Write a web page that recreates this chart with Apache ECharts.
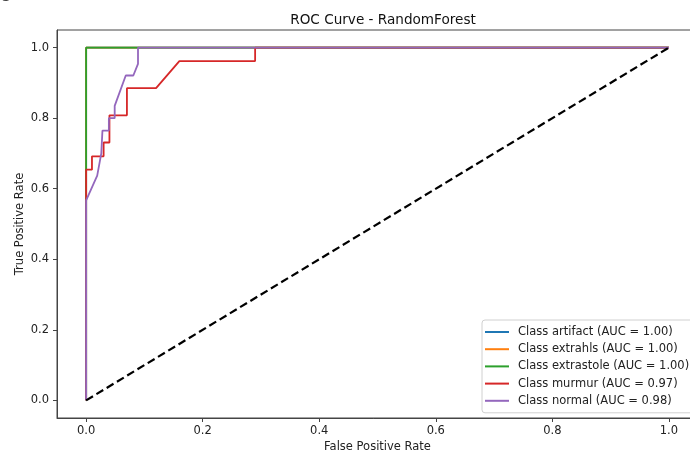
<!DOCTYPE html>
<html>
<head>
<meta charset="utf-8">
<script src="https://cdn.jsdelivr.net/npm/echarts@6/dist/echarts.min.js"></script>
<style>
html,body{margin:0;padding:0;background:#fff;}
#chart{width:690px;height:453px;}
</style>
</head>
<body>
<div id="chart"></div>
<script>
// ---- data ----
var classNames = ['artifact', 'extrahls', 'extrastole', 'murmur', 'normal'];
var aucValues = [1.00, 1.00, 1.00, 0.97, 0.98];
var artifactFpr = [0, 0, 1];
var artifactTpr = [0, 1, 1];
var extrahlsFpr = [0, 0, 1];
var extrahlsTpr = [0, 1, 1];
var extrastoleFpr = [0, 0, 1];
var extrastoleTpr = [0, 1, 1];
var murmurFpr = [0, 0, 0.01, 0.01, 0.03, 0.03, 0.04, 0.04, 0.07, 0.07, 0.12, 0.16, 0.29, 0.29, 1];
var murmurTpr = [0, 0.654, 0.654, 0.692, 0.692, 0.731, 0.731, 0.808, 0.808, 0.885, 0.885, 0.962, 0.962, 1, 1];
var normalFpr = [0, 0, 0.019, 0.026, 0.028, 0.028, 0.039, 0.039, 0.049, 0.049, 0.068, 0.081, 0.089, 0.089, 1];
var normalTpr = [0, 0.567, 0.637, 0.70, 0.70, 0.765, 0.765, 0.80, 0.80, 0.835, 0.921, 0.921, 0.954, 1, 1];
var chanceX = [0, 1];
var chanceY = [0, 1];
var tickValues = [0, 0.2, 0.4, 0.6, 0.8, 1.0];

var colors = ['#1f77b4', '#ff7f0e', '#2ca02c', '#d62728', '#9467bd'];
var fprs = [artifactFpr, extrahlsFpr, extrastoleFpr, murmurFpr, normalFpr];
var tprs = [artifactTpr, extrahlsTpr, extrastoleTpr, murmurTpr, normalTpr];

function zip(a, b) { return a.map(function (v, i) { return [v, b[i]]; }); }

var FONT = 'DejaVu Sans';
var series = classNames.map(function (n, i) {
  return {
    name: 'Class ' + n + ' (AUC = ' + aucValues[i].toFixed(2) + ')',
    type: 'line',
    data: zip(fprs[i], tprs[i]),
    symbol: 'none',
    lineStyle: { color: colors[i], width: 1.8 },
    itemStyle: { color: colors[i] },
    animation: false
  };
});
series.push({
  name: 'chance',
  type: 'line',
  data: zip(chanceX, chanceY),
  symbol: 'none',
  lineStyle: { color: '#000', width: 2.2, type: [8, 4] },
  animation: false
});

var chart = echarts.init(document.getElementById('chart'));
chart.setOption({
  backgroundColor: '#fff',
  animation: false,
  title: {
    text: 'ROC Curve - RandomForest',
    left: 378, top: 8, textAlign: 'center',
    textStyle: { fontFamily: FONT, fontSize: 13.6, fontWeight: 'normal', color: '#111' }
  },
  graphic: [{
    type: 'text', x: 0, y: -10,
    style: { text: 'C', fontFamily: FONT, fontSize: 14, fill: '#444' }
  }],
  grid: {
    left: 57, top: 30, width: 641, height: 388,
    outerBoundsMode: 'none', containLabel: false,
    show: true, borderColor: '#444', borderWidth: 1, backgroundColor: 'transparent'
  },
  xAxis: {
    type: 'value', min: -0.05, max: 1.05,
    name: 'False Positive Rate', nameLocation: 'middle', nameGap: 23, nameMoveOverlap: false,
    nameTextStyle: { fontFamily: FONT, fontSize: 11.5, color: '#222' },
    axisLine: { show: true, onZero: false, lineStyle: { color: '#444', width: 1 } },
    axisTick: { show: true, inside: false, length: 4, customValues: tickValues, lineStyle: { color: '#444' } },
    axisLabel: { customValues: tickValues, margin: 7, fontFamily: FONT, fontSize: 11.5, color: '#222',
      formatter: function (v) { return (+v).toFixed(1); } },
    splitLine: { show: false }
  },
  yAxis: {
    type: 'value', min: -0.05, max: 1.05,
    name: 'True Positive Rate', nameLocation: 'middle', nameGap: 31, nameMoveOverlap: false,
    nameTextStyle: { fontFamily: FONT, fontSize: 11.5, color: '#222' },
    axisLine: { show: true, onZero: false, lineStyle: { color: '#444', width: 1 } },
    axisTick: { show: true, inside: false, length: 4, customValues: tickValues, lineStyle: { color: '#444' } },
    axisLabel: { customValues: tickValues, margin: 8, fontFamily: FONT, fontSize: 11.5, color: '#222',
      formatter: function (v) { return (+v).toFixed(1); } },
    splitLine: { show: false }
  },
  legend: {
    orient: 'vertical',
    left: 482, top: 320,
    data: series.slice(0, 5).map(function (s) { return s.name; }),
    icon: 'rect',
    itemWidth: 24, itemHeight: 2,
    itemGap: 3.2,
    padding: [5, 10, 5, 3],
    backgroundColor: 'rgba(255,255,255,0.85)',
    borderColor: '#d0d0d0', borderWidth: 1, borderRadius: 3,
    textStyle: { fontFamily: FONT, fontSize: 11.5, color: '#222', lineHeight: 14, padding: [0, 0, 0, 4] }
  },
  series: series
});
</script>
</body>
</html>
